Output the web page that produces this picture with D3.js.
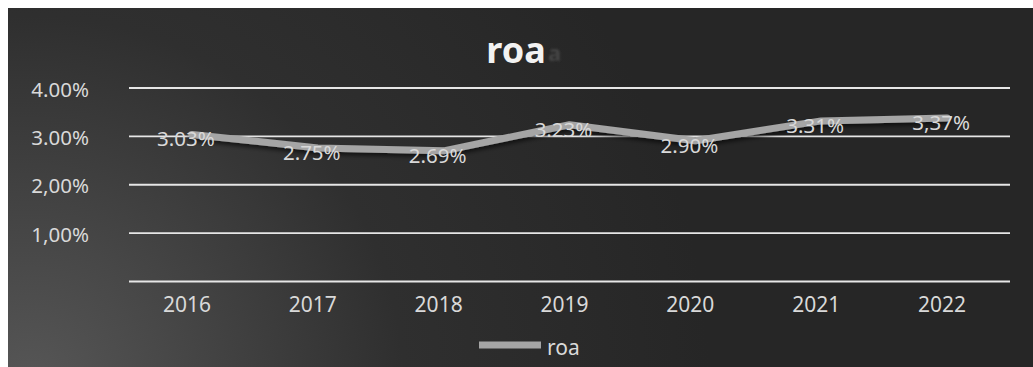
<!DOCTYPE html>
<html>
<head>
<meta charset="utf-8">
<script src="https://cdn.jsdelivr.net/npm/d3@7"></script>
<style>
    body { margin: 0; background: #fff; }
    svg { display: block; }
</style>
</head>
<body>
<div id="chart"></div>
<script>
// data
const years = ['2016', '2017', '2018', '2019', '2020', '2021', '2022'];
const roaValues = [3.03, 2.75, 2.69, 3.23, 2.90, 3.31, 3.37];
const roaLabels = ['3.03%', '2.75%', '2.69%', '3.23%', '2.90%', '3.31%', '3,37%'];
const yTicks = [0, 1, 2, 3, 4];
const yTickLabels = ['', '1,00%', '2,00%', '3.00%', '4.00%'];
const seriesName = 'roa';

const width = 1033;
const height = 367;
const font = '"Noto Sans", "Liberation Sans", sans-serif';
const textColor = '#d9d9d9';

let margin = { top: 87.5, right: 23, bottom: 86, left: 129 };

let x = d3
    .scaleBand()
    .domain(years)
    .range([margin.left, width - margin.right]);

let y = d3
    .scaleLinear()
    .domain([0, 4])
    .range([height - margin.bottom, margin.top]);

const svg = d3.select('#chart')
    .append('svg')
    .attr('width', width)
    .attr('height', height);

let defs = svg.append('defs');

let grad = defs.append('radialGradient')
    .attr('id', 'bg')
    .attr('gradientUnits', 'userSpaceOnUse')
    .attr('cx', 30)
    .attr('cy', 390)
    .attr('r', 680);
grad.append('stop').attr('offset', 0).attr('stop-color', '#575757');
grad.append('stop').attr('offset', 0.55).attr('stop-color', '#2f2f2f');
grad.append('stop').attr('offset', 1).attr('stop-color', '#262626');

defs.append('filter')
    .attr('id', 'shadow')
    .attr('x', '-5%').attr('y', '-50%')
    .attr('width', '110%').attr('height', '200%')
    .append('feDropShadow')
    .attr('dx', 0)
    .attr('dy', 3)
    .attr('stdDeviation', 2)
    .attr('flood-color', '#000')
    .attr('flood-opacity', 0.6);

defs.append('filter')
    .attr('id', 'blur')
    .append('feGaussianBlur')
    .attr('stdDeviation', 1.2);

// chart area
svg.append('rect')
    .attr('x', 8)
    .attr('y', 8)
    .attr('width', width - 8)
    .attr('height', height - 8)
    .attr('fill', 'url(#bg)');

// title (with the faint ghost letter next to it)
svg.append('text')
    .attr('x', 548)
    .attr('y', 61)
    .attr('font-family', font)
    .attr('font-weight', 'bold')
    .attr('font-size', 22)
    .attr('fill', '#444')
    .attr('filter', 'url(#blur)')
    .text('a');

svg.append('text')
    .attr('x', 516)
    .attr('y', 63)
    .attr('text-anchor', 'middle')
    .attr('font-family', font)
    .attr('font-weight', 'bold')
    .attr('font-size', 36)
    .attr('fill', '#f2f2f2')
    .text(seriesName);

// gridlines + y labels
let yAxis = (g) => g
    .attr('transform', `translate(${margin.left},0)`)
    .call(d3.axisLeft(y)
        .tickValues(yTicks)
        .tickSize(-(width - margin.left - margin.right))
        .tickPadding(40)
        .tickFormat((d, i) => yTickLabels[i]))
    .call(g => g.select('.domain').remove())
    .call(g => g.selectAll('.tick line')
        .attr('stroke', '#e6e6e6')
        .attr('stroke-width', 1.8))
    .call(g => g.selectAll('.tick text')
        .attr('fill', textColor)
        .attr('font-family', font)
        .attr('font-size', 20.5)
        .attr('dy', '0.42em'));

svg.append('g').call(yAxis);

// x labels
let xAxis = (g) => g
    .attr('transform', `translate(-5,${height - margin.bottom})`)
    .call(d3.axisBottom(x).tickSize(0).tickPadding(16))
    .call(g => g.select('.domain').remove())
    .call(g => g.selectAll('.tick text')
        .attr('fill', textColor)
        .attr('font-family', font)
        .attr('font-size', 21));

svg.append('g').call(xAxis);

// line
let line = d3.line()
    .x((d, i) => x(years[i]) + x.bandwidth() / 2)
    .y(d => y(d));

svg.append('path')
    .datum(roaValues)
    .attr('fill', 'none')
    .attr('stroke', '#a5a5a5')
    .attr('stroke-width', 7)
    .attr('stroke-linecap', 'round')
    .attr('stroke-linejoin', 'round')
    .attr('filter', 'url(#shadow)')
    .attr('d', line);

// data labels
svg.selectAll('.dataLabel')
    .data(roaValues)
    .enter()
    .append('text')
    .attr('class', 'dataLabel')
    .attr('x', (d, i) => x(years[i]) + x.bandwidth() / 2 - 6)
    .attr('y', d => y(d) + 12)
    .attr('text-anchor', 'middle')
    .attr('font-family', font)
    .attr('font-size', 20.5)
    .attr('fill', textColor)
    .text((d, i) => roaLabels[i]);

// legend
let legend = svg.append('g').attr('transform', 'translate(479,345)');
legend.append('line')
    .attr('x1', 0)
    .attr('x2', 62)
    .attr('stroke', '#a5a5a5')
    .attr('stroke-width', 7);
legend.append('text')
    .attr('x', 68)
    .attr('y', 10)
    .attr('font-family', font)
    .attr('font-size', 21)
    .attr('fill', textColor)
    .text(seriesName);
</script>
</body>
</html>
